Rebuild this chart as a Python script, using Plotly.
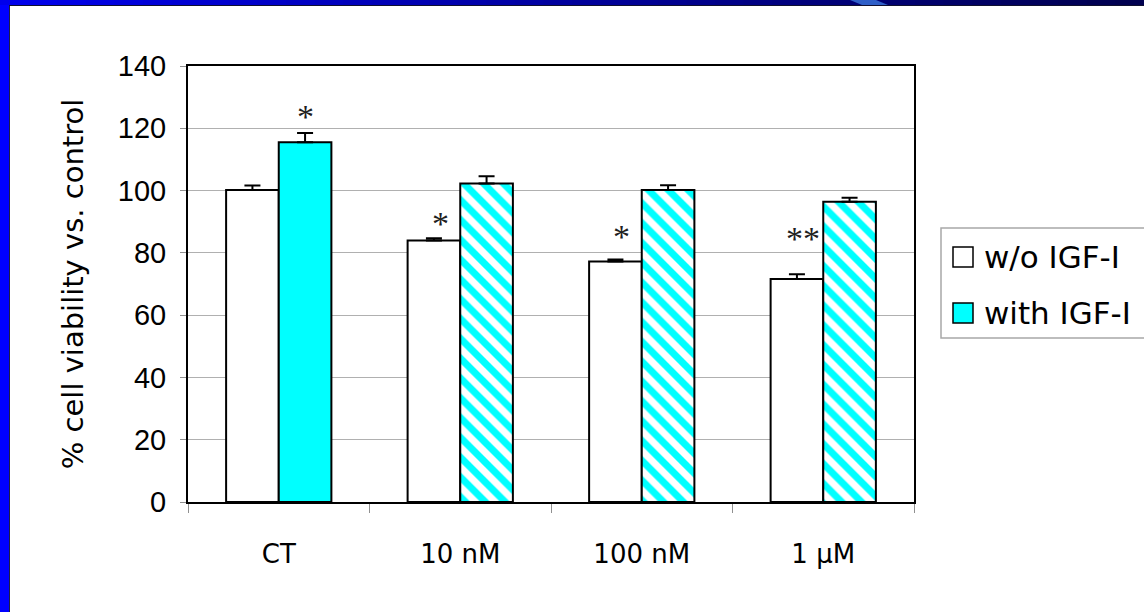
import plotly.graph_objects as go

# Treatment groups and measured viability (% of control), mean and upper error
categories = ["CT", "10 nM", "100 nM", "1 μM"]
without_igf = [100.2, 84.0, 77.2, 71.6]
without_err = [1.4, 0.7, 0.7, 1.5]
with_igf = [115.5, 102.3, 100.2, 96.4]
with_err = [3.0, 2.3, 1.5, 1.3]
series_names = ["w/o IGF-I", "with IGF-I"]
y_ticks = [0, 20, 40, 60, 80, 100, 120, 140]

# Significance marks: (category, series index, label)
stars = [("CT", 1, "*"), ("10 nM", 0, "*"), ("100 nM", 0, "*"), ("1 μM", 0, "**")]

W, H = 1144, 612
L, R, T, B = 188, 914, 66, 502  # plot area in pixels

COMIC = "Comic Sans MS, DejaVu Sans, sans-serif"
ARIAL = "Arial, Liberation Sans, sans-serif"
CYAN = "#00ffff"


def px(x):
    return (x - L) / (R - L)


def py(y):
    return (B - y) / (B - T)


fig = go.Figure()

fig.add_trace(go.Bar(
    x=categories, y=without_igf, name=series_names[0],
    marker=dict(color="white", line=dict(color="black", width=2)),
    error_y=dict(type="data", symmetric=False, array=without_err,
                 arrayminus=[0] * len(without_err),
                 color="black", thickness=2, width=8),
    showlegend=False,
))
fig.add_trace(go.Bar(
    x=categories, y=with_igf, name=series_names[1],
    marker=dict(color=CYAN, line=dict(color="black", width=2),
                pattern=dict(shape=["", "\\", "\\", "\\"], fgcolor=CYAN,
                             bgcolor="white", size=14, solidity=0.5,
                             fillmode="replace")),
    error_y=dict(type="data", symmetric=False, array=with_err,
                 arrayminus=[0] * len(with_err),
                 color="black", thickness=2, width=8),
    showlegend=False,
))

# Asterisks above the bars
series_vals = [(without_igf, without_err), (with_igf, with_err)]
lift = {"CT": -4, "10 nM": -6, "100 nM": 2, "1 μM": 15}
for cat, si, label in stars:
    vals, errs = series_vals[si]
    i = categories.index(cat)
    offset = -20 if si == 0 else 27
    fig.add_annotation(
        x=cat, y=vals[i] + errs[i], xref="x", yref="y",
        text=label, showarrow=False, yanchor="bottom",
        xshift=offset, yshift=lift[cat],
        font=dict(family="Times New Roman, Liberation Serif, serif",
                  size=34, color="#202020"),
    )

shapes = []
# Slide frame: blue strip on the left and a gradient band along the top
shapes.append(dict(type="rect", xref="paper", yref="paper",
                   x0=px(0), x1=px(9), y0=py(W), y1=py(0),
                   fillcolor="#0000ff", line=dict(width=0), layer="above"))
steps = 40
c0 = (0, 0, 235)
c1 = (0, 0, 80)
for k in range(steps):
    t = k / (steps - 1)
    col = tuple(int(c0[j] + (c1[j] - c0[j]) * t) for j in range(3))
    x0 = W * k / steps
    x1 = W * (k + 1) / steps + 1
    shapes.append(dict(type="rect", xref="paper", yref="paper",
                       x0=px(x0), x1=px(x1), y0=py(5), y1=py(0),
                       fillcolor="rgb(%d,%d,%d)" % col, line=dict(width=0),
                       layer="above"))
# lighter slanted accent in the top band
shapes.append(dict(type="path", xref="paper", yref="paper",
                   path="M %f,%f L %f,%f L %f,%f L %f,%f Z" % (
                       px(850), py(0), px(876), py(0), px(888), py(5), px(862), py(5)),
                   fillcolor="#2f5fc8", line=dict(width=0), layer="above"))
# thin dark edges of the white slide area
shapes.append(dict(type="line", xref="paper", yref="paper",
                   x0=px(9.5), x1=px(9.5), y0=py(W), y1=py(5),
                   line=dict(color="#202040", width=1), layer="above"))
shapes.append(dict(type="line", xref="paper", yref="paper",
                   x0=px(9), x1=px(W), y0=py(5.5), y1=py(5.5),
                   line=dict(color="#101030", width=1), layer="above"))

# Legend box with swatches
shapes.append(dict(type="rect", xref="paper", yref="paper",
                   x0=px(941), x1=px(1160), y0=py(338), y1=py(228),
                   fillcolor="white", line=dict(color="#a8a8a8", width=1.5)))
legend_fill = ["white", CYAN]
legend_y = [257, 313]
for name, fill, yy in zip(series_names, legend_fill, legend_y):
    shapes.append(dict(type="rect", xref="paper", yref="paper",
                       x0=px(953), x1=px(973), y0=py(yy + 10), y1=py(yy - 10),
                       fillcolor=fill, line=dict(color="black", width=1.5)))
    fig.add_annotation(x=px(982), y=py(yy), xref="paper", yref="paper",
                       text=name, showarrow=False, xanchor="left",
                       yanchor="middle",
                       font=dict(family=COMIC, size=31, color="black"))

fig.update_layout(
    width=W, height=H,
    margin=dict(l=L, r=W - R, t=T, b=H - B, pad=0),
    paper_bgcolor="white", plot_bgcolor="white",
    barmode="group", bargap=0.42, bargroupgap=0,
    shapes=shapes,
    showlegend=False,
)

fig.update_xaxes(
    type="category", showgrid=False,
    showline=True, linecolor="black", linewidth=2, mirror=True,
    ticks="outside", tickson="boundaries", ticklen=9, tickcolor="#909090",
    tickwidth=1, ticklabelstandoff=28,
    tickfont=dict(family=COMIC, size=26, color="black"),
)
fig.update_yaxes(
    range=[0, 140], tickvals=y_ticks, ticktext=[str(v) for v in y_ticks],
    showgrid=True, gridcolor="#b0b0b0", gridwidth=1,
    showline=True, linecolor="black", linewidth=2, mirror=True,
    ticks="outside", ticklen=6, tickcolor="#909090", tickwidth=1,
    ticklabelstandoff=8, zeroline=False,
    tickfont=dict(family=ARIAL, size=29, color="black"),
    title=dict(text="% cell viability vs. control", standoff=26,
               font=dict(family=COMIC, size=29, color="black")),
)

fig.write_html("out.html")
